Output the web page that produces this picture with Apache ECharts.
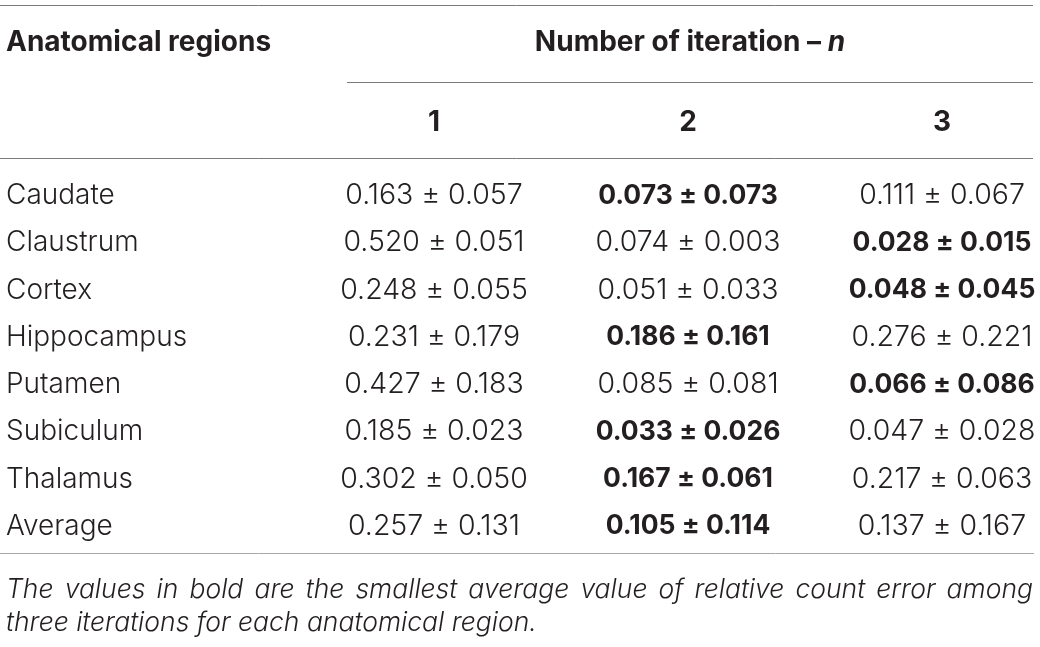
<!DOCTYPE html>
<html>
<head>
<meta charset="utf-8">
<script src="https://cdn.jsdelivr.net/npm/echarts@6/dist/echarts.min.js"></script>
<style>
  html, body { margin: 0; padding: 0; background: #fff; }
  #main { width: 1040px; height: 647px; }
</style>
</head>
<body>
<div id="main"></div>
<script>
// table content
const regions = ['Caudate', 'Claustrum', 'Cortex', 'Hippocampus', 'Putamen', 'Subiculum', 'Thalamus', 'Average']
const iterations = ['1', '2', '3']
const meanIter1 = [0.163, 0.520, 0.248, 0.231, 0.427, 0.185, 0.302, 0.257]
const sdIter1 = [0.057, 0.051, 0.055, 0.179, 0.183, 0.023, 0.050, 0.131]
const meanIter2 = [0.073, 0.074, 0.051, 0.186, 0.085, 0.033, 0.167, 0.105]
const sdIter2 = [0.073, 0.003, 0.033, 0.161, 0.081, 0.026, 0.061, 0.114]
const meanIter3 = [0.111, 0.028, 0.048, 0.276, 0.066, 0.047, 0.217, 0.137]
const sdIter3 = [0.067, 0.015, 0.045, 0.221, 0.086, 0.028, 0.063, 0.167]
const boldIter = [2, 3, 3, 2, 3, 2, 2, 2]
const headRegion = 'Anatomical regions'
const headIter = 'Number of iteration – '
const footLine1 = 'The values in bold are the smallest average value of relative count error among'
const footLine2 = 'three iterations for each anatomical region.'

const FONT = 'Inter'
const SIZE = 28
const INK = '#231f20'
const RULE = '#7a7a7a'

const means = [meanIter1, meanIter2, meanIter3]
const sds = [sdIter1, sdIter2, sdIter3]
const cells = []
regions.forEach((r, ri) => {
  iterations.forEach((it, ci) => {
    cells.push({
      value: [ci, ri],
      text: means[ci][ri].toFixed(3) + ' ± ' + sds[ci][ri].toFixed(3),
      bold: boldIter[ri] === ci + 1
    })
  })
})

// justify the first footnote line word by word
const ctx = document.createElement('canvas').getContext('2d')
const footFont = 'italic 300 26.5px ' + FONT
ctx.font = footFont
function justify (line, x0, x1, y) {
  const words = line.split(' ')
  const widths = words.map(w => ctx.measureText(w).width)
  const total = widths.reduce((a, b) => a + b, 0)
  const gap = (x1 - x0 - total) / (words.length - 1)
  let x = x0
  return words.map((w, i) => {
    const el = { type: 'text', x: x, y: y, style: { text: w, font: footFont, fill: INK, verticalAlign: 'middle' } }
    x += widths[i] + gap
    return el
  })
}

function rule (x1, x2, y, color) {
  return { type: 'line', shape: { x1: x1, y1: y, x2: x2, y2: y }, style: { stroke: color || RULE, lineWidth: 1 } }
}

const chart = echarts.init(document.getElementById('main'))
chart.setOption({
  animation: false,
  grid: { left: 434, right: 98, top: 172, bottom: 97 },
  xAxis: {
    type: 'category',
    position: 'top',
    data: iterations,
    boundaryGap: false,
    axisLine: { show: false },
    axisTick: { show: false },
    splitLine: { show: false },
    axisLabel: { interval: 0, margin: 49, verticalAlign: 'middle', fontFamily: FONT, fontSize: SIZE, fontWeight: 'bold', color: INK }
  },
  yAxis: {
    type: 'category',
    inverse: true,
    data: regions,
    axisLine: { show: false },
    axisTick: { show: false },
    splitLine: { show: false },
    axisLabel: { interval: 0, margin: 428, align: 'left', fontFamily: FONT, fontSize: SIZE, fontWeight: 300, color: INK }
  },
  series: [{
    type: 'custom',
    data: cells,
    renderItem: function (params, api) {
      const cell = cells[params.dataIndex]
      const p = api.coord([api.value(0), api.value(1)])
      return {
        type: 'text',
        x: p[0],
        y: p[1],
        style: {
          text: cell.text,
          font: cell.bold ? 'bold 26.5px ' + FONT : '300 28.5px ' + FONT,
          fill: INK,
          align: 'center',
          verticalAlign: 'middle'
        }
      }
    }
  }],
  graphic: [
    rule(0, 1033, 5.5),
    rule(347, 1033, 82.5),
    rule(0, 1033, 158.5),
    rule(0, 1034, 553.5, '#a8a8a8'),
    { type: 'text', x: 6, y: 43, style: { text: headRegion, font: 'bold ' + SIZE + 'px ' + FONT, fill: INK, verticalAlign: 'middle' } },
    {
      type: 'text', x: 690, y: 43,
      style: {
        text: '{b|' + headIter + '}{i|n}',
        align: 'center',
        verticalAlign: 'middle',
        rich: {
          b: { fontFamily: FONT, fontSize: SIZE, fontWeight: 'bold', fill: INK },
          i: { fontFamily: FONT, fontSize: SIZE, fontWeight: 'bold', fontStyle: 'italic', fill: INK }
        }
      }
    },
    ...justify(footLine1, 6, 1033, 590),
    { type: 'text', x: 6, y: 623, style: { text: footLine2, font: footFont, fill: INK, verticalAlign: 'middle' } }
  ]
})
</script>
</body>
</html>
